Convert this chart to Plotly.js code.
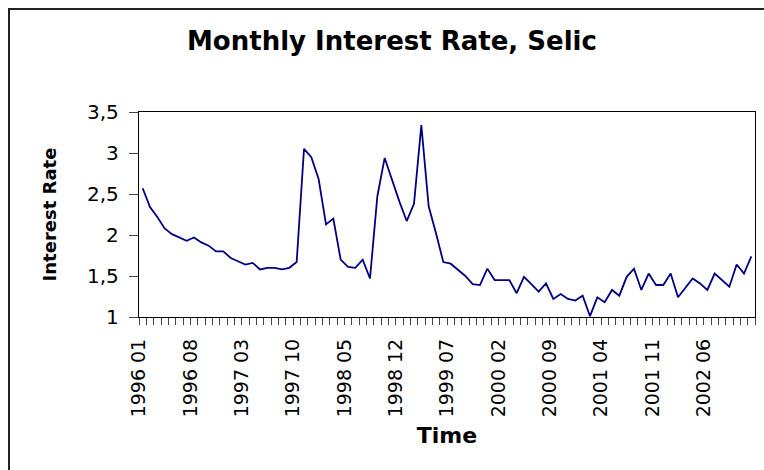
<!DOCTYPE html>
<html>
<head>
<meta charset="utf-8">
<script src="https://cdn.plot.ly/plotly-3.0.1.min.js"></script>
<style>
  html, body { margin: 0; padding: 0; background: #fff; }
  #chart { width: 764px; height: 470px; }
</style>
</head>
<body>
<div id="chart"></div>
<script>
// Monthly Selic interest rate (%), 1996 01 .. 2002 12
const years = [1996, 1997, 1998, 1999, 2000, 2001, 2002];
const rates = [
  2.57, 2.34, 2.22, 2.08, 2.01, 1.97, 1.93, 1.97, 1.91, 1.87, 1.80, 1.80,
  1.72, 1.68, 1.64, 1.66, 1.58, 1.60, 1.60, 1.58, 1.60, 1.67, 3.05, 2.95,
  2.68, 2.13, 2.20, 1.70, 1.61, 1.60, 1.70, 1.47, 2.47, 2.94, 2.67, 2.41,
  2.17, 2.38, 3.34, 2.35, 2.02, 1.67, 1.65, 1.58, 1.50, 1.40, 1.39, 1.59,
  1.45, 1.45, 1.45, 1.29, 1.49, 1.40, 1.31, 1.41, 1.22, 1.28, 1.22, 1.20,
  1.26, 1.01, 1.24, 1.18, 1.33, 1.26, 1.49, 1.59, 1.33, 1.53, 1.39, 1.39,
  1.53, 1.24, 1.36, 1.47, 1.41, 1.33, 1.53, 1.45, 1.37, 1.64, 1.53, 1.74
];
const yTickVals = [1, 1.5, 2, 2.5, 3, 3.5];
const yTickText = ['1', '1,5', '2', '2,5', '3', '3,5'];
const labelStep = 7;

// category labels "YYYY MM"
const months = [];
years.forEach(y => {
  for (let m = 1; m <= 12; m++) months.push(y + ' ' + String(m).padStart(2, '0'));
});
const idx = months.map((_, i) => i);

// ticks sit on category boundaries; labels every 7th boundary
const xTickVals = [];
const xTickText = [];
for (let k = 0; k <= months.length; k++) {
  xTickVals.push(k - 0.5);
  xTickText.push(k % labelStep === 0 && k < months.length ? months[k] : '');
}

const trace = {
  x: idx,
  y: rates,
  text: months,
  type: 'scatter',
  mode: 'lines',
  line: { color: '#000080', width: 1.8 },
  hovertemplate: '%{text}: %{y}<extra></extra>'
};

const layout = {
  width: 764,
  height: 470,
  margin: { l: 139, r: 9, t: 112, b: 153 },
  paper_bgcolor: '#ffffff',
  plot_bgcolor: '#ffffff',
  showlegend: false,
  font: { family: 'DejaVu Sans, sans-serif', color: '#000' },
  title: {
    text: 'Monthly Interest Rate, Selic',
    font: { family: 'DejaVu Sans, sans-serif', size: 26, color: '#000', weight: 'bold' },
    xref: 'container', yref: 'container',
    x: 0.513, xanchor: 'center',
    y: 1 - 41 / 470, yanchor: 'middle'
  },
  xaxis: {
    range: [-0.5, months.length - 0.5],
    tickmode: 'array',
    tickvals: xTickVals,
    ticktext: xTickText,
    tickangle: -90,
    ticks: 'outside',
    ticklen: 7,
    tickwidth: 1,
    tickcolor: '#444',
    ticklabelstandoff: 6,
    tickfont: { family: 'DejaVu Sans, sans-serif', size: 19, color: '#000' },
    showgrid: false,
    zeroline: false,
    showline: true,
    linecolor: '#000',
    linewidth: 1.2,
    mirror: true,
    title: {
      text: 'Time',
      font: { family: 'DejaVu Sans, sans-serif', size: 22, color: '#000', weight: 'bold' },
      standoff: 11
    }
  },
  yaxis: {
    range: [1, 3.5],
    tickmode: 'array',
    tickvals: yTickVals,
    ticktext: yTickText,
    ticks: 'outside',
    ticklen: 9,
    tickwidth: 1,
    tickcolor: '#444',
    ticklabelstandoff: 6,
    tickfont: { family: 'DejaVu Sans, sans-serif', size: 20, color: '#000' },
    showgrid: false,
    zeroline: false,
    showline: true,
    linecolor: '#000',
    linewidth: 1.2,
    mirror: true,
    title: {
      text: 'Interest Rate',
      font: { family: 'DejaVu Sans, sans-serif', size: 18, color: '#000', weight: 'bold' },
      standoff: 25
    }
  },
  shapes: [{
    type: 'rect', xref: 'paper', yref: 'paper',
    x0: (9 - 139) / 616, x1: 1.2,
    y0: -1.2, y1: 1 + (112 - 9) / 205,
    line: { color: '#222', width: 2 },
    fillcolor: 'rgba(0,0,0,0)',
    layer: 'below'
  }]
};

Plotly.newPlot('chart', [trace], layout, { displayModeBar: false, staticPlot: true });
</script>
</body>
</html>
